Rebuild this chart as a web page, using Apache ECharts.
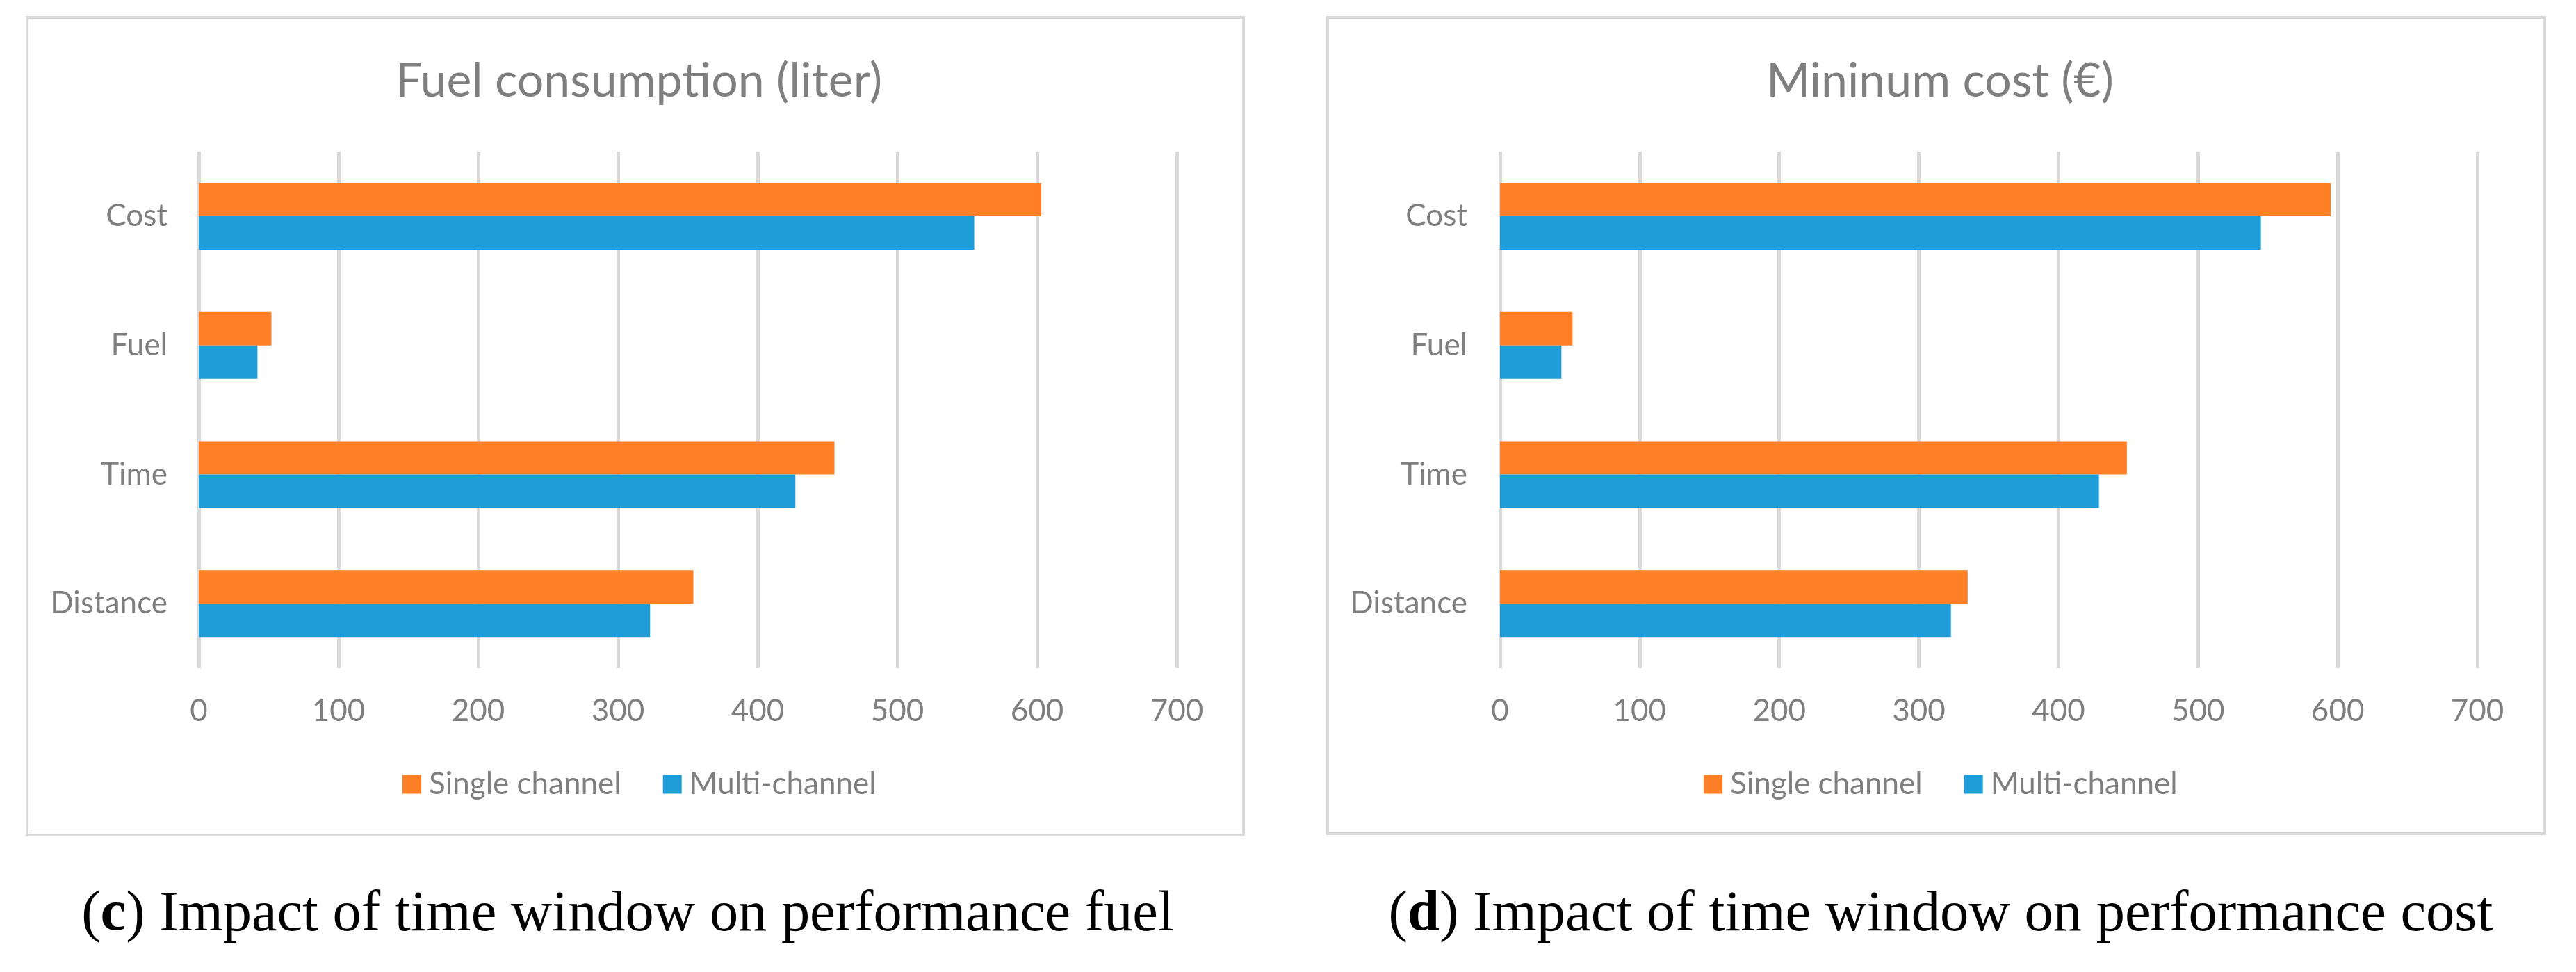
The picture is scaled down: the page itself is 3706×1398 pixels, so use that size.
<!DOCTYPE html>
<html>
<head>
<meta charset="utf-8">
<script src="https://cdn.jsdelivr.net/npm/echarts@6/dist/echarts.min.js"></script>
<style>
html,body{margin:0;padding:0;background:#fff;}
#c{width:3706px;height:1398px;}
</style>
</head>
<body>
<div id="c"></div>
<script>
// ---- data ----
const categories = ['Distance', 'Time', 'Fuel', 'Cost'];
const seriesNames = ['Single channel', 'Multi-channel'];
// panel (c) Fuel consumption (liter)
const fuelSingle = [354, 455, 52, 603];
const fuelMulti  = [323, 427, 42, 555];
// panel (d) Mininum cost (€)
const costSingle = [335, 449, 52, 595];
const costMulti  = [323, 429, 44, 545];
const xTicks = { min: 0, max: 700, interval: 100 };
const panelTitles = ['Fuel consumption (liter)', 'Mininum cost (€)'];
const captionLetters = ['c', 'd'];
const captionTexts = [' Impact of time window on performance fuel', ' Impact of time window on performance cost'];

const ORANGE = '#FF7F27', BLUE = '#1E9DD9', GRID = '#D9D9D9', TXT = '#7F7F7F';
const FONT = 'Lato';
const SERIF = 'Liberation Serif';

// fit caption font size to the reference caption width
const mctx = document.createElement('canvas').getContext('2d');
function captionSize(letter, rest, target) {
  mctx.font = 'normal 100px "' + SERIF + '"';
  let w = mctx.measureText('()' + rest).width;
  mctx.font = 'bold 100px "' + SERIF + '"';
  w += mctx.measureText(letter).width;
  return 100 * target / w;
}

const panels = [
  { frame: [39, 25, 1750, 1176], grid: { left: 286, top: 218, width: 1407, height: 743 }, cx: 914, legendLeft: 574, capCx: 898, capW: 1572, single: fuelSingle, multi: fuelMulti, lblMargin: 45 },
  { frame: [1910, 25, 1751, 1174], grid: { left: 2158, top: 218, width: 1406, height: 743 }, cx: 2786, legendLeft: 2446, capCx: 2787, capW: 1589, single: costSingle, multi: costMulti, lblMargin: 47 }
];

const option = {
  backgroundColor: '#fff',
  animation: false,
  title: [], legend: [], grid: [], xAxis: [], yAxis: [], series: [], graphic: []
};

panels.forEach((p, i) => {
  const capFs = captionSize(captionLetters[i], captionTexts[i], p.capW);
  option.graphic.push({
    type: 'rect', shape: { x: p.frame[0], y: p.frame[1], width: p.frame[2], height: p.frame[3] },
    style: { fill: 'none', stroke: GRID, lineWidth: 4 }, z: -1
  });
  option.title.push({
    text: panelTitles[i], left: p.cx, top: 112, textAlign: 'center', textVerticalAlign: 'middle',
    textStyle: { fontFamily: FONT, fontSize: 68, fontWeight: 'normal', color: TXT }
  });
  option.title.push({
    text: '({b|' + captionLetters[i] + '})' + captionTexts[i],
    left: p.capCx, top: 1311, textAlign: 'center', textVerticalAlign: 'middle',
    textStyle: { fontFamily: SERIF, fontSize: capFs, fontWeight: 'normal', color: '#000',
      rich: { b: { fontFamily: SERIF, fontSize: capFs, fontWeight: 'bold', color: '#000' } } }
  });
  option.legend.push({
    data: seriesNames, left: p.legendLeft, top: 1101,
    orient: 'horizontal', icon: 'rect', itemWidth: 27, itemHeight: 27, itemGap: 60,
    textStyle: { fontFamily: FONT, fontSize: 44, color: TXT, padding: [0, 0, 0, 6] }
  });
  option.grid.push(Object.assign({ containLabel: false }, p.grid));
  option.xAxis.push({
    type: 'value', gridIndex: i, min: xTicks.min, max: xTicks.max, interval: xTicks.interval,
    axisLine: { show: false }, axisTick: { show: false },
    splitLine: { show: true, lineStyle: { color: GRID, width: 5 } },
    axisLabel: { fontFamily: FONT, fontSize: 44, color: TXT, margin: 40 }
  });
  option.yAxis.push({
    type: 'category', gridIndex: i, data: categories,
    axisLine: { show: false }, axisTick: { show: false },
    axisLabel: { fontFamily: FONT, fontSize: 44, color: TXT, margin: p.lblMargin }
  });
  option.series.push({
    name: seriesNames[0], type: 'bar', xAxisIndex: i, yAxisIndex: i, data: p.single,
    itemStyle: { color: ORANGE }, barWidth: 48, barGap: '0%'
  });
  option.series.push({
    name: seriesNames[1], type: 'bar', xAxisIndex: i, yAxisIndex: i, data: p.multi,
    itemStyle: { color: BLUE }, barWidth: 48, barGap: '0%'
  });
});

const chart = echarts.init(document.getElementById('c'), null, { renderer: 'canvas' });
chart.setOption(option);
</script>
</body>
</html>
